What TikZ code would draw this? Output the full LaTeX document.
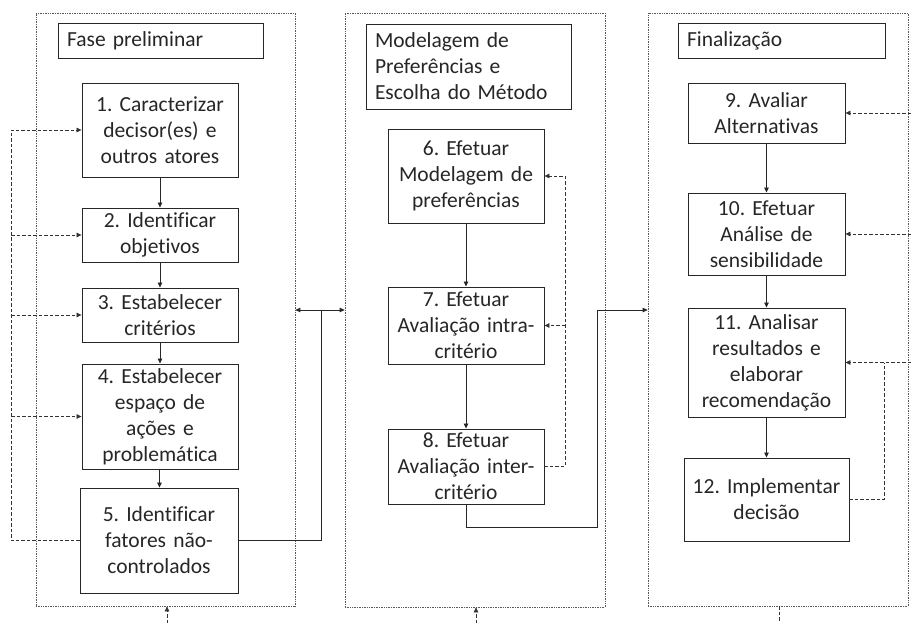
\documentclass[tikz,border=0pt]{standalone}
\usepackage{fontspec}
\setmainfont{Carlito}[Ligatures=CommonOff]
\usetikzlibrary{arrows.meta}
\frenchspacing
\begin{document}
\begin{tikzpicture}[x=1pt,y=-1pt,
  txt/.style={font=\fontsize{21.5}{26}\selectfont, text=black!85},
  stepbox/.style={txt, draw=black!85, line width=0.9pt, align=center, inner sep=0pt},
  titlebox/.style={txt, draw=black!85, line width=0.9pt, align=left, inner xsep=9pt, inner ysep=0pt},
  container/.style={draw=black!65, densely dotted, line width=0.7pt, inner sep=0pt},
  tip/.tip={Triangle[length=5pt,width=4.5pt]},
  flow/.style={draw=black!85, line width=0.8pt},
  flowarrow/.style={flow, -tip},
  fb/.style={draw=black!80, line width=0.7pt, dash pattern=on 3.5pt off 2pt},
  fbarrow/.style={fb, -tip}
]
\useasboundingbox (0,0) rectangle (911,623);

% containers
\node[container, minimum width=259pt, minimum height=593pt] (C1) at (165.5,309.5) {};
\node[container, minimum width=260pt, minimum height=594pt] (C2) at (475,310) {};
\node[container, minimum width=260pt, minimum height=593pt] (C3) at (778,309.5) {};

% titles
\node[titlebox, minimum width=205pt, minimum height=35pt, text width=187pt] (T1) at (160.5,40.5) {Fase preliminar};
\node[titlebox, minimum width=205pt, minimum height=85pt, text width=187pt] (T2) at (468.5,66.5) {Modelagem de\\Preferências e\\Escolha do Método};
\node[titlebox, minimum width=207pt, minimum height=35pt, text width=189pt] (T3) at (781.5,40.5) {Finalização};

% column 1
\node[stepbox, minimum width=156pt, minimum height=94pt, text width=156pt] (B1) at (160,130) {1. Caracterizar\\decisor(es) e\\outros atores};
\node[stepbox, minimum width=156pt, minimum height=54pt, text width=156pt] (B2) at (160,235) {2. Identificar\\objetivos};
\node[stepbox, minimum width=156pt, minimum height=54pt, text width=156pt] (B3) at (160,315) {3. Estabelecer\\critérios};
\node[stepbox, minimum width=156pt, minimum height=105pt, text width=156pt] (B4) at (160,416.5) {4. Estabelecer\\espaço de\\ações e\\problemática};
\node[stepbox, minimum width=158pt, minimum height=105pt, text width=158pt] (B5) at (159,540.5) {5. Identificar\\fatores não-\\controlados};

% column 2
\node[stepbox, minimum width=156pt, minimum height=94pt, text width=156pt] (B6) at (466,176) {6. Efetuar\\Modelagem de\\preferências};
\node[stepbox, minimum width=156pt, minimum height=77pt, text width=156pt] (B7) at (466,325.5) {7. Efetuar\\Avaliação intra-\\critério};
\node[stepbox, minimum width=156pt, minimum height=75pt, text width=156pt] (B8) at (466,466.5) {8. Efetuar\\Avaliação inter-\\critério};

% column 3
\node[stepbox, minimum width=157pt, minimum height=60pt, text width=157pt] (B9) at (766.5,113) {9. Avaliar\\Alternativas};
\node[stepbox, minimum width=157pt, minimum height=82pt, text width=157pt] (B10) at (766.5,234) {10. Efetuar\\Análise de\\sensibilidade};
\node[stepbox, minimum width=157pt, minimum height=109pt, text width=157pt] (B11) at (766.5,362.5) {11. Analisar\\resultados e\\elaborar\\recomendação};
\node[stepbox, minimum width=165pt, minimum height=83pt, text width=165pt] (B12) at (766.5,499.5) {12. Implementar\\decisão};

% main flow
\draw[flowarrow] (B1) -- (B2);
\draw[flowarrow] (B2) -- (B3);
\draw[flowarrow] (B3) -- (B4);
\draw[flowarrow] (B4) -- (B5);
\draw[flowarrow] (B6) -- (B7);
\draw[flowarrow] (B7) -- (B8);
\draw[flowarrow] (B9) -- (B10);
\draw[flowarrow] (B10) -- (B11);
\draw[flowarrow] (B11) -- (B12);

% links between phases
\coordinate (J) at (321,310);
\draw[flow] (B5.east) -| (J);
\draw[flow, tip-tip] (C1.east |- J) -- (C2.west |- J);
\coordinate (K1) at (597,527);
\coordinate (K2) at (597,310);
\draw[flowarrow] (B8.south) |- (K1) -- (K2) -- (C3.west |- K2);

% feedback, column 1
\coordinate (LX) at (11,0);
\draw[fbarrow] (B5.west) -- (B5.west -| LX) -- (B1.west -| LX) -- (B1.west);
\draw[fbarrow] (B2.west -| LX) -- (B2.west);
\draw[fbarrow] (B3.west -| LX) -- (B3.west);
\draw[fbarrow] (B4.west -| LX) -- (B4.west);

% feedback, column 2
\coordinate (MX) at (565,0);
\draw[fbarrow] (B8.east) -- (B8.east -| MX) -- (B6.east -| MX) -- (B6.east);
\draw[fbarrow] (B7.east -| MX) -- (B7.east);

% feedback, column 3
\coordinate (RE) at (911,0);
\draw[fbarrow] (B9.east -| RE) -- (B9.east);
\draw[fbarrow] (B10.east -| RE) -- (B10.east);
\draw[fbarrow] (B11.east -| RE) -- (B11.east);
\coordinate (RX) at (884,0);
\draw[fb] (B12.east) -- (B12.east -| RX) -- (B11.east -| RX);

% bottom connectors
\coordinate (D1) at (167,623);
\coordinate (D2) at (476,623);
\coordinate (D3) at (779,623);
\draw[fbarrow] (D1) -- (D1 |- C1.south);
\draw[fbarrow] (D2) -- (D2 |- C2.south);
\draw[fb] (D3 |- C3.south) -- (D3);
\end{tikzpicture}
\end{document}
